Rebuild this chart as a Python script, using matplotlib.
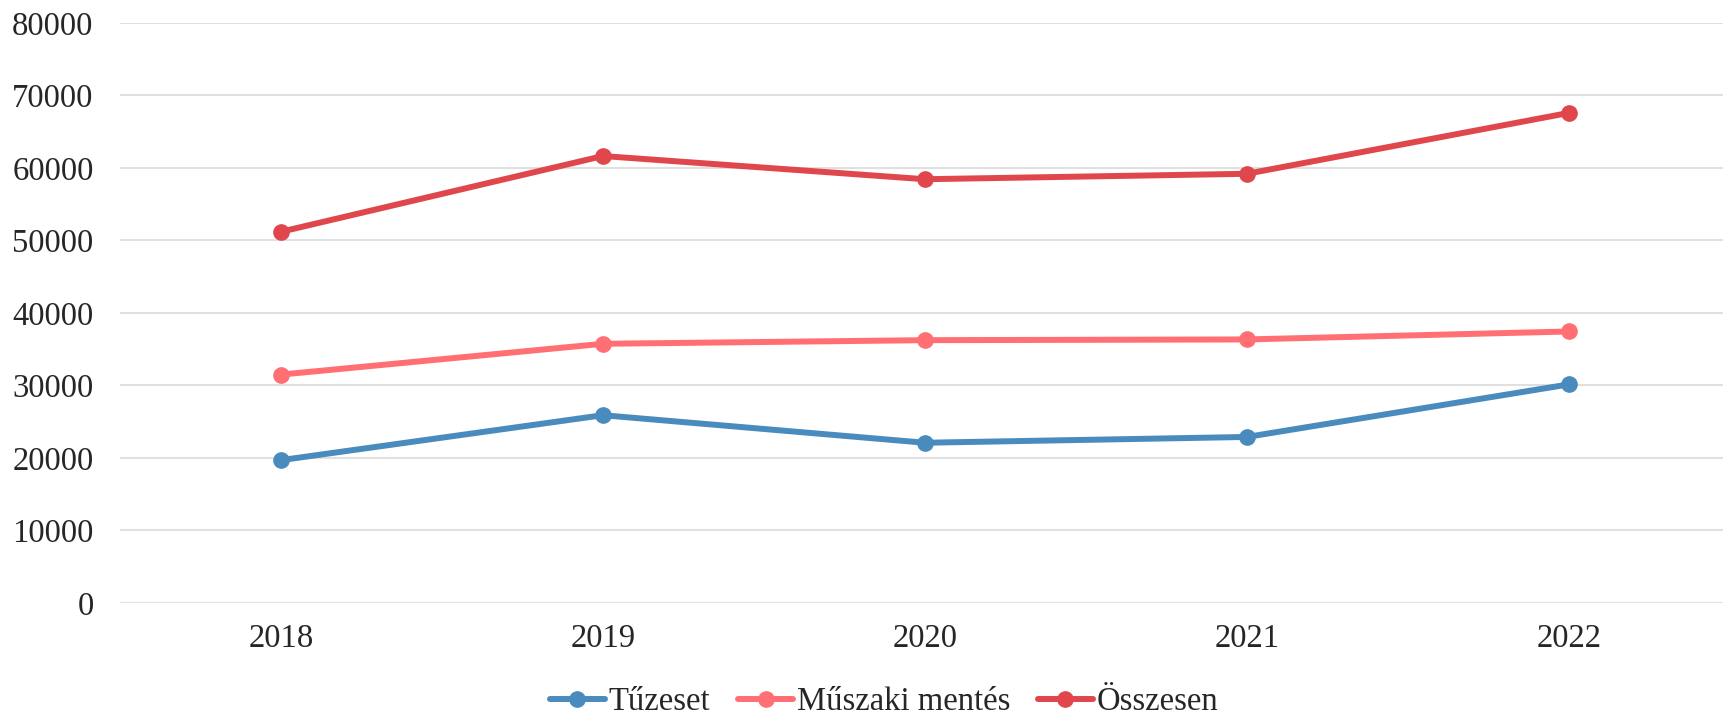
import matplotlib
matplotlib.use("Agg")
import matplotlib.pyplot as plt

years = ["2018", "2019", "2020", "2021", "2022"]
tuzeset = [19700, 25900, 22100, 22900, 30150]
muszaki = [31500, 35750, 36250, 36350, 37450]
osszesen = [51200, 61650, 58450, 59200, 67600]
series_names = ["Tűzeset", "Műszaki mentés", "Összesen"]
y_ticks = [0, 10000, 20000, 30000, 40000, 50000, 60000, 70000, 80000]

colors = ["#4A8BBE", "#FF6F74", "#E0474C"]

plt.rcParams['font.family'] = ['Liberation Serif', 'DejaVu Serif']

fig = plt.figure(figsize=(17.23, 7.14), dpi=100)
ax = fig.add_axes([0.0696, 0.1555, 0.9344, 0.8123])

x = list(range(len(years)))
for vals, name, c in zip([tuzeset, muszaki, osszesen], series_names, colors):
    ax.plot(x, vals, color=c, lw=4.3, marker='o', markersize=11, label=name,
            solid_capstyle='round', zorder=3)

ax.set_xlim(-0.5, len(years) - 0.5)
ax.set_ylim(0, 80000)
ax.set_yticks(y_ticks)
ax.set_yticklabels([str(v) for v in y_ticks])
ax.set_xticks(x)
ax.set_xticklabels(years)
ax.grid(axis='y', color='#E0E0E0', lw=1.5, zorder=0)
ax.set_axisbelow(True)
for s in ax.spines.values():
    s.set_visible(False)
ax.tick_params(axis='both', length=0, labelsize=23.5, colors='#262626')
ax.tick_params(axis='y', pad=19)
ax.tick_params(axis='x', pad=15)

leg = fig.legend(loc='center', bbox_to_anchor=(0.513, 0.017), ncol=3, frameon=False,
                 fontsize=23.5, handlelength=1.7, handletextpad=0.1, columnspacing=0.85,
                 borderaxespad=0)
for t in leg.get_texts():
    t.set_color('#262626')

fig.savefig("out.png", dpi=100)
